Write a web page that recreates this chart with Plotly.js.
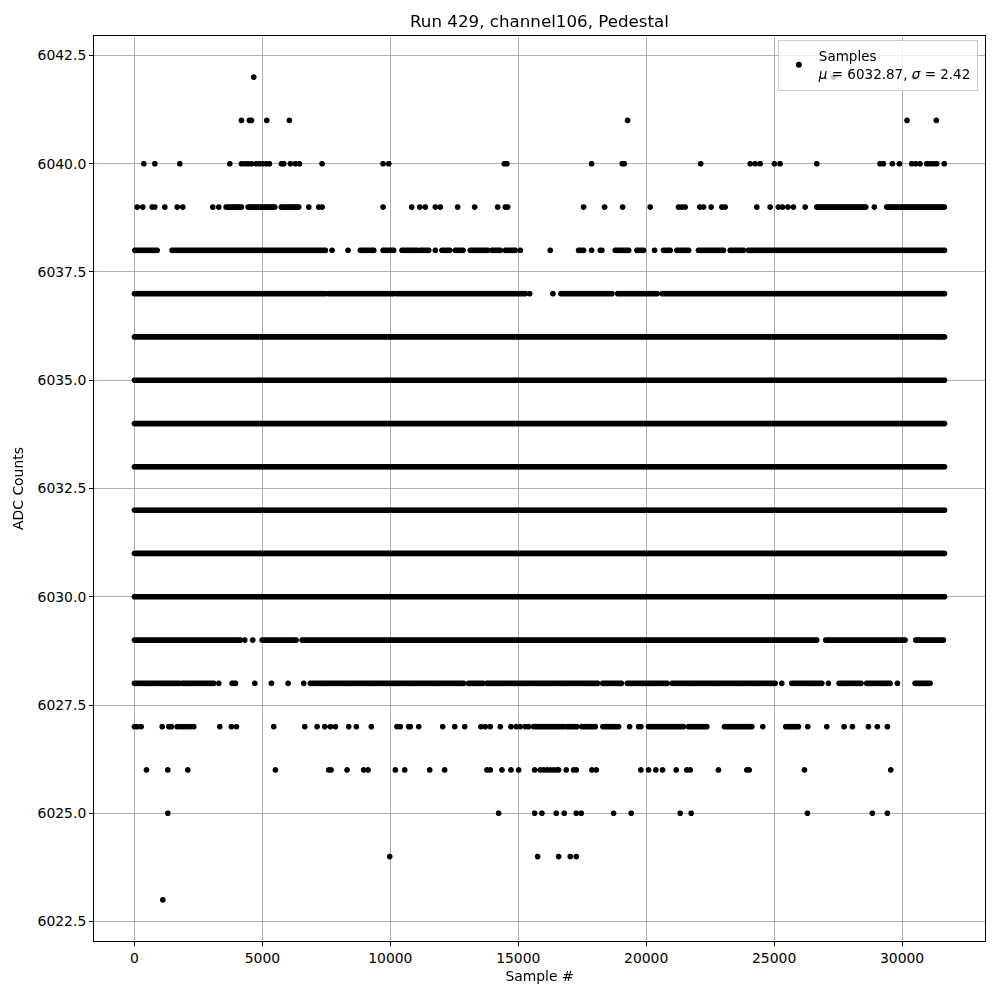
<!DOCTYPE html>
<html>
<head>
<meta charset="utf-8">
<script src="https://cdn.plot.ly/plotly-3.0.1.min.js"></script>
<style>html,body{margin:0;padding:0;background:#fff;}#chart{width:1000px;height:1000px;}</style>
</head>
<body>
<div id="chart"></div>
<script>
// ADC level occupancy.
// Each entry is a single sample index, or [first, last] for a run of samples that fills the level continuously.
const levels = [6023, 6024, 6025, 6026, 6027, 6028, 6029, 6030, 6031, 6032, 6033, 6034, 6035, 6036, 6037, 6038, 6039, 6040, 6041, 6042];

const lv6042 = [4661, 27318, 30469];
const lv6041 = [4180, 4492, 4570, 5169, 6055, 19271, 30195, 31340];
const lv6040 = [365, 794, 1771, 3724, 4180, 4310, 4440, 4570, 4753, 4883, 5013, 5143, 5273, 5742, 5833, 6094, 6289, 6445, 7331, 9714, 9935, 14453, 14557, 17864, 19063, 19141, 22130, 24063, 24258, 24453, 25013, 25234, 26667, 29141, 29271, 29622, 29896, 30378, 30534, 30703, 30964, 31094, 31224, 31354, 31651];
const lv6039 = [104, 325, 690, 794, 1185, 1667, 1888, 3060, 3294, [3581, 4180], [4440, 5482], [5742, 6419], 6810, 7201, 7331, 9714, 10833, 11146, 11367, 11758, 11953, 12630, 13294, 14193, 14492, 14583, 17552, 18372, 19076, 20156, 21263, 21393, 21523, 22096, 22240, 22539, 22956, 23086, 24323, 24844, 25169, 25326, 25534, 25755, 26211, [26667, 28581], 28919, [29401, 31651]];
const lv6038 = [[13, 885], [1471, 7461], 7721, 8346, [8828, 9349], [9714, 10130], [10456, 11042], [11172, 11497], 11758, [12018, 12317], [12539, 12839], [13125, 13802], [13971, 14297], [14492, 14883], 15078, 16250, [17357, 17552], 17864, [18203, 18268], [18789, 19310], [19635, 19896], 20326, [20677, 20938], [21198, 21654], [22044, 23021], [23281, 23802], [23997, 31659]];
const lv6037 = [[0, 1055], [1145, 7461], [7591, 10130], [10260, 15273], 15443, 16354, [16667, 18659], [18880, 20417], [20612, 31659]];
const lv6036 = [[0, 31659]];
const lv6035 = [[0, 31659]];
const lv6034 = [[0, 31659]];
const lv6033 = [[0, 31659]];
const lv6032 = [[0, 31659]];
const lv6031 = [[0, 31659]];
const lv6030 = [[0, 31659]];
const lv6029 = [[0, 4140], 4310, 4622, [4987, 6315], [6550, 26667], [27018, 30117], [30534, 31615]];
const lv6028 = [[0, 1732], [1862, 3099], 3294, [3815, 3945], 4701, 5352, 6003, 6615, [6875, 12865], [13060, 13620], [13776, 18100], [18300, 19030], [19260, 20820], [21020, 25039], 25300, [25690, 26862], 27122, [27539, 28398], [28620, 29531], 29818, [30508, 31094]];
const lv6027 = [0, 100, 260, 1081, 1341, 1445, 1667, 1797, 1927, 2057, 2187, 2318, 3333, 3789, 3984, 5443, 6654, 7136, 7435, 7656, 7852, 8372, 8672, 9258, 10260, 10391, 10716, 10781, 11107, 12044, 12513, 12904, 13542, 13711, 13906, 14297, 14714, 14922, 15078, 15273, 15404, [15599, 16771], [16901, 17292], [17487, 18008], [18307, 18919], 19349, 19701, 19792, [20091, 21458], [21654, 22370], [23060, 24128], 24557, [25456, 25950], 26315, 27057, 27734, 28060, 28685, 29036, 29427];
const lv6026 = [469, 1302, 2083, 5508, 7591, 7682, 8307, 8958, 9128, 10195, 10560, 11536, 12122, 13776, 13906, 14362, 14714, 15013, 15638, 15859, 15990, 16120, 16250, 16380, 16510, 16575, 16875, 17162, 17266, 17878, 18047, 19792, 20091, 20378, 20638, 21172, 21589, 21719, 22825, 23932, 24023, 26185, 29557];
const lv6025 = [1302, 14232, 15638, 15925, 16484, 16797, 17266, 17461, 18724, 19414, 21328, 21758, 26302, 28841, 29427];
const lv6024 = [9974, 15755, 16576, 17031, 17266];
const lv6023 = [1107];

const levelData = [lv6023, lv6024, lv6025, lv6026, lv6027, lv6028, lv6029, lv6030, lv6031, lv6032, lv6033, lv6034, lv6035, lv6036, lv6037, lv6038, lv6039, lv6040, lv6041, lv6042];

const legendName = 'Samples<br><i>μ</i> = 6032.87, <i>σ</i> = 2.42';
const chartTitle = 'Run 429, channel106, Pedestal';
const xTitle = 'Sample #';
const yTitle = 'ADC Counts';
const xTicks = [0, 5000, 10000, 15000, 20000, 25000, 30000];
const yTicks = [6022.5, 6025.0, 6027.5, 6030.0, 6032.5, 6035.0, 6037.5, 6040.0, 6042.5];

// expand runs into sample markers (one marker per ~1 px of axis)
const RUN_STEP = 40;
const xs = [], ys = [];
levels.forEach((lv, i) => {
  levelData[i].forEach(e => {
    if (Array.isArray(e)) {
      for (let s = e[0]; s < e[1]; s += RUN_STEP) { xs.push(s); ys.push(lv); }
      xs.push(e[1]); ys.push(lv);
    } else { xs.push(e); ys.push(lv); }
  });
});

const trace = {
  type: 'scattergl',
  mode: 'markers',
  x: xs, y: ys,
  name: legendName,
  marker: {color: '#000000', size: 6},
  showlegend: true
};

const axisCommon = {
  showline: true, mirror: true, linecolor: '#000', linewidth: 1,
  ticks: 'outside', ticklen: 4, tickwidth: 1, tickcolor: '#000',
  showgrid: true, gridcolor: '#b0b0b0', gridwidth: 1,
  zeroline: false,
  tickfont: {family: 'DejaVu Sans', size: 13.9, color: '#000'}
};

const layout = {
  width: 1000, height: 1000,
  paper_bgcolor: '#fff', plot_bgcolor: '#fff',
  font: {family: 'DejaVu Sans', color: '#000'},
  margin: {l: 93.5, r: 15, t: 35.5, b: 58.5, autoexpand: false},
  title: {text: chartTitle, font: {family: 'DejaVu Sans', size: 16.7, color: '#000'}, x: 0.5395, xanchor: 'center', y: 0.979, yanchor: 'middle', yref: 'container'},
  xaxis: Object.assign({}, axisCommon, {
    range: [-1583, 33242], tickvals: xTicks, ticktext: xTicks.map(String),
    title: {text: xTitle, font: {family: 'DejaVu Sans', size: 13.9, color: '#000'}, standoff: 6}
  }),
  yaxis: Object.assign({}, axisCommon, {
    range: [6022.05, 6042.95], tickvals: yTicks, ticktext: yTicks.map(v => v.toFixed(1)),
    title: {text: yTitle, font: {family: 'DejaVu Sans', size: 13.9, color: '#000'}, standoff: 10}
  }),
  showlegend: true,
  legend: {
    x: 0.992, xanchor: 'right', y: 0.996, yanchor: 'top',
    bgcolor: 'rgba(255,255,255,0.8)', bordercolor: '#cccccc', borderwidth: 1,
    font: {family: 'DejaVu Sans', size: 13.5, color: '#000'}
  }
};

Plotly.newPlot('chart', [trace], layout, {displayModeBar: false, staticPlot: true});
</script>
</body>
</html>
